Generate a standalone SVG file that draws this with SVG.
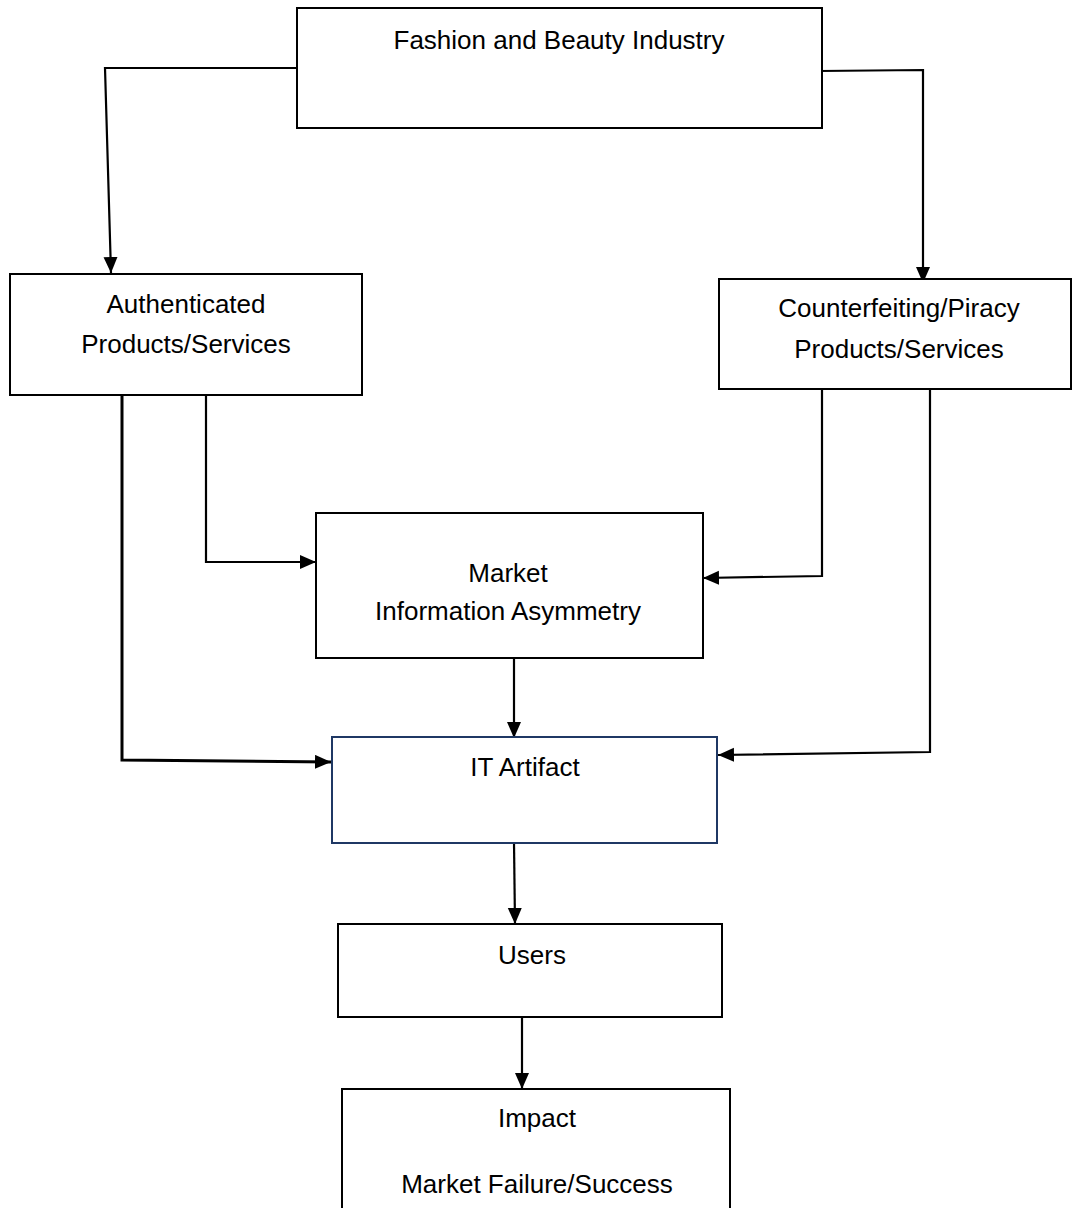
<svg xmlns="http://www.w3.org/2000/svg" width="1072" height="1208" viewBox="0 0 1072 1208">
<style>
.box{fill:#fff;stroke:#000;stroke-width:2}
.it{fill:#fff;stroke:#1f3864;stroke-width:2}
.lbl{font-family:"Liberation Sans",Arial,sans-serif;font-size:26px;fill:#000;text-anchor:middle}
.c{fill:none;stroke:#000;stroke-width:2.2;marker-end:url(#ah)}
</style>
<defs>
<marker id="ah" markerUnits="userSpaceOnUse" markerWidth="18" markerHeight="16" refX="16" refY="7" orient="auto">
<path d="M0,0 L16,7 L0,14 z" fill="#000"/>
</marker>
</defs>
<g id="connectors">
<path class="c" d="M297,68 L105,68 L111,273"/>
<path class="c" d="M819,71 L923,70 L923,283"/>
<path class="c" d="M206,395 L206,562 L316,562"/>
<path class="c" d="M822,389 L822,576 L703,578"/>
<path class="c" style="stroke-width:3" d="M122,395 L122,760 L331,762"/>
<path class="c" d="M930,389 L930,752 L718,755"/>
<path class="c" d="M514,658 L514,738"/>
<path class="c" d="M514,843 L515,924"/>
<path class="c" d="M522,1017 L522,1089"/>
</g>
<g id="fashion">
<rect class="box" x="297" y="8" width="525" height="120"/>
<text class="lbl" x="559" y="49">Fashion and Beauty Industry</text>
</g>
<g id="authenticated">
<rect class="box" x="10" y="274" width="352" height="121"/>
<text class="lbl" x="186" y="313">Authenticated</text>
<text class="lbl" x="186" y="353">Products/Services</text>
</g>
<g id="counterfeit">
<rect class="box" x="719" y="279" width="352" height="110"/>
<text class="lbl" x="899" y="317">Counterfeiting/Piracy</text>
<text class="lbl" x="899" y="358">Products/Services</text>
</g>
<g id="market">
<rect class="box" x="316" y="513" width="387" height="145"/>
<text class="lbl" x="508" y="582">Market</text>
<text class="lbl" x="508" y="620">Information Asymmetry</text>
</g>
<g id="it-artifact">
<rect class="it" x="332" y="737" width="385" height="106"/>
<text class="lbl" x="525" y="776">IT Artifact</text>
</g>
<g id="users">
<rect class="box" x="338" y="924" width="384" height="93"/>
<text class="lbl" x="532" y="964">Users</text>
</g>
<g id="impact">
<rect class="box" x="342" y="1089" width="388" height="130"/>
<text class="lbl" x="537" y="1127">Impact</text>
<text class="lbl" x="537" y="1193">Market Failure/Success</text>
</g>
</svg>
